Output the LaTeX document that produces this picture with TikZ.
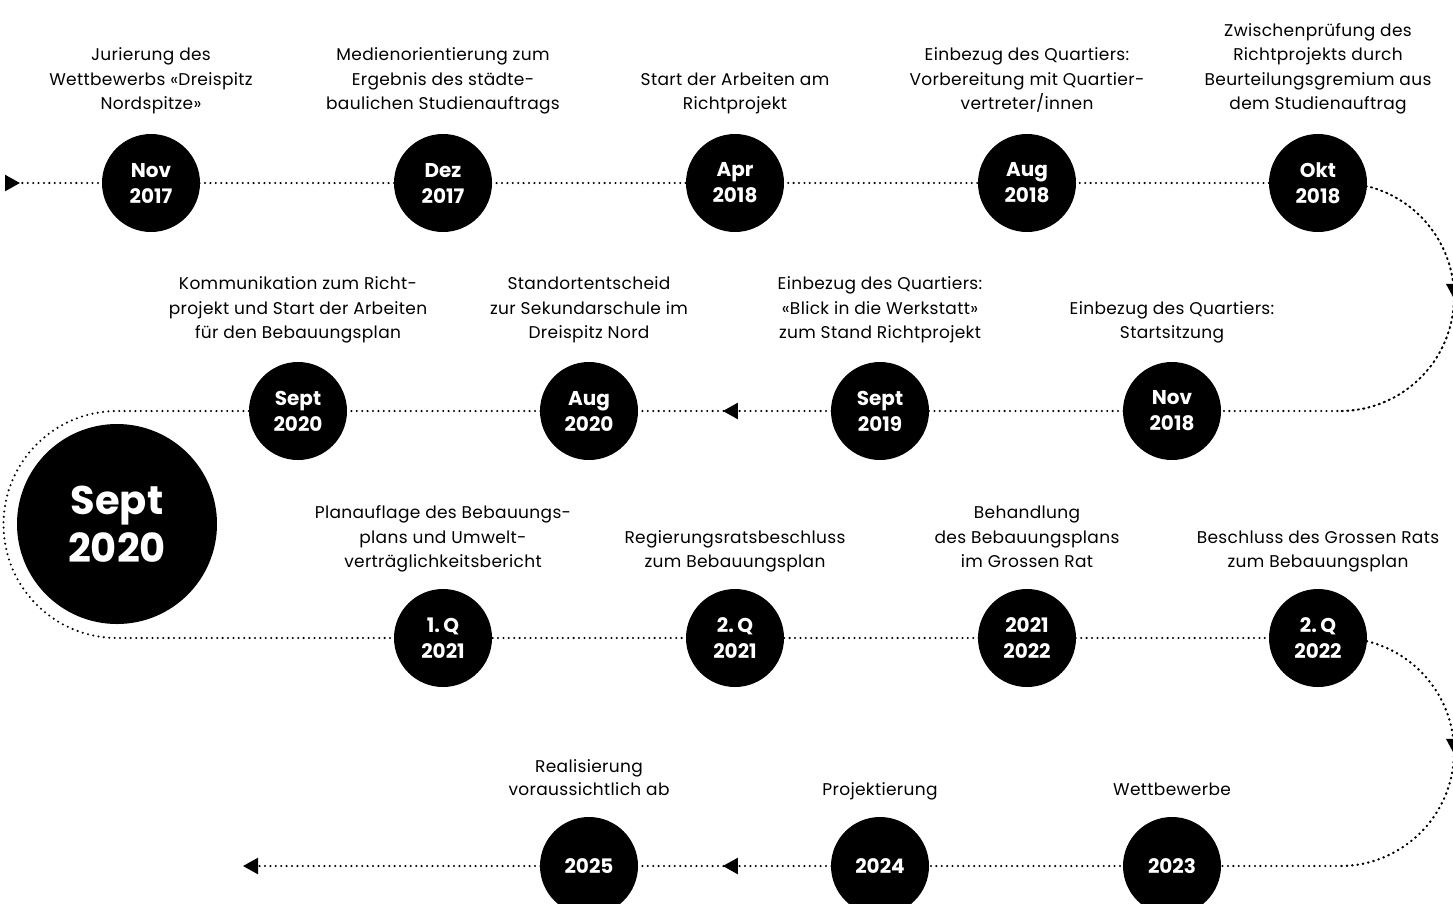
\documentclass[tikz,border=0pt]{standalone}
\usepackage{fontspec}
\setmainfont{Poppins}
\newfontfamily\lblfont{Poppins}[LetterSpace=2]
\usetikzlibrary{arrows.meta,decorations.markings,calc}
\begin{document}
\begin{tikzpicture}[x=1pt,y=-1pt,
  dot/.style={line width=2.3pt, dash pattern=on 0pt off 5.4pt, line cap=round},
  ev/.style={circle, fill=black, minimum size=98pt, inner sep=0pt, text=white,
    font=\bfseries\fontsize{20}{26}\selectfont, align=center},
  bigev/.style={circle, fill=black, minimum size=200pt, inner sep=0pt, text=white,
    font=\bfseries\fontsize{40}{48}\selectfont, align=center},
  lbl/.style={font=\lblfont\fontsize{17}{24.5}\selectfont, align=center, anchor=south,
    inner sep=0pt, text depth=0pt},
  tri/.tip={Triangle[length=15pt,width=16pt]},
  arrowat/.style={postaction={decorate}, decoration={markings,
    mark=at position #1 with {\arrow{tri}}}}
]
\useasboundingbox (0,0) rectangle (1453,903);

% circles positions
\coordinate (p1) at (151,183);
\coordinate (p2) at (443,183);
\coordinate (p3) at (735,183);
\coordinate (p4) at (1027,183);
\coordinate (p5) at (1318,183);
\coordinate (p6) at (1172,411);
\coordinate (p7) at (880,411);
\coordinate (p8) at (589,411);
\coordinate (p9) at (298,411);
\coordinate (p10) at (443,638);
\coordinate (p11) at (735,638);
\coordinate (p12) at (1027,638);
\coordinate (p13) at (1318,638);
\coordinate (p14) at (1172,866);
\coordinate (p15) at (880,866);
\coordinate (p16) at (589,866);

\coordinate (s) at (5,183);
\coordinate (e) at (243,866);
\coordinate (ra1) at (1340,183);
\coordinate (la1) at (117,411);
\coordinate (la2) at (117,638);
\coordinate (rb1) at (1340,638);

% connectors (behind circles)
\draw[dot, {Triangle[reversed,length=15pt,width=16pt]}-] (s) -- (p1);
\draw[dot] (p1) -- (p2) -- (p3) -- (p4) -- (p5) -- (ra1)
  arc[start angle=-90, end angle=90, radius=114] -- (p6);
\draw[dot, arrowat=181pt] (ra1) arc[start angle=-90, end angle=90, radius=114];
\draw[dot] (p6) -- (p7);
\draw[dot, arrowat=0.54] (p7) -- (p8);
\draw[dot] (p8) -- (p9) -- (la1)
  arc[start angle=-90, end angle=-270, radius=113.5] -- (la2) -- (p10) -- (p11) -- (p12) -- (p13) -- (rb1)
  arc[start angle=-90, end angle=90, radius=114] -- (p14) -- (p15);
\draw[dot, arrowat=181pt] (rb1) arc[start angle=-90, end angle=90, radius=114];
\draw[dot, arrowat=0.54] (p15) -- (p16);
\draw[dot, -tri] (p16) -- (e);

% event circles
\node[ev] (n1) at (p1) {Nov\\2017};
\node[ev] (n2) at (p2) {Dez\\2017};
\node[ev] (n3) at (p3) {Apr\\2018};
\node[ev] (n4) at (p4) {Aug\\2018};
\node[ev] (n5) at (p5) {Okt\\2018};
\node[ev] (n6) at (p6) {Nov\\2018};
\node[ev] (n7) at (p7) {Sept\\2019};
\node[ev] (n8) at (p8) {Aug\\2020};
\node[ev] (n9) at (p9) {Sept\\2020};
\node[bigev] (big) at (117,524) {Sept\\2020};
\node[ev] (n10) at (p10) {1.\,Q\\2021};
\node[ev] (n11) at (p11) {2.\,Q\\2021};
\node[ev] (n12) at (p12) {2021\\2022};
\node[ev] (n13) at (p13) {2.\,Q\\2022};
\node[ev] (n14) at (p14) {2023};
\node[ev] (n15) at (p15) {2024};
\node[ev] (n16) at (p16) {2025};

% labels
\node[lbl] (l1) at (151,110) {Jurierung des\\Wettbewerbs «Dreispitz\\Nordspitze»};
\node[lbl] (l2) at (443,110) {Medienorientierung zum\\Ergebnis des städte-\\baulichen Studienauftrags};
\node[lbl] (l3) at (735,110) {Start der Arbeiten am\\Richtprojekt};
\node[lbl] (l4) at (1027,110) {Einbezug des Quartiers:\\Vorbereitung mit Quartier-\\vertreter/innen};
\node[lbl] (l5) at (1318,110) {Zwischenprüfung des\\Richtprojekts durch\\Beurteilungsgremium aus\\dem Studienauftrag};
\node[lbl] (l6) at (1172,339) {Einbezug des Quartiers:\\Startsitzung};
\node[lbl] (l7) at (880,339) {Einbezug des Quartiers:\\«Blick in die Werkstatt»\\zum Stand Richtprojekt};
\node[lbl] (l8) at (589,339) {Standortentscheid\\zur Sekundarschule im\\Dreispitz Nord};
\node[lbl] (l9) at (298,339) {Kommunikation zum Richt-\\projekt und Start der Arbeiten\\für den Bebauungsplan};
\node[lbl] (l10) at (443,568) {Planauflage des Bebauungs-\\plans und Umwelt-\\verträglichkeitsbericht};
\node[lbl] (l11) at (735,568) {Regierungsratsbeschluss\\zum Bebauungsplan};
\node[lbl] (l12) at (1027,568) {Behandlung\\des Bebauungsplans\\im Grossen Rat};
\node[lbl] (l13) at (1318,568) {Beschluss des Grossen Rats\\zum Bebauungsplan};
\node[lbl] (l14) at (1172,796) {Wettbewerbe};
\node[lbl] (l15) at (880,796) {Projektierung};
\node[lbl, font=\lblfont\fontsize{17}{23}\selectfont] (l16) at (589,796) {Realisierung\\voraussichtlich ab};
\end{tikzpicture}
\end{document}
